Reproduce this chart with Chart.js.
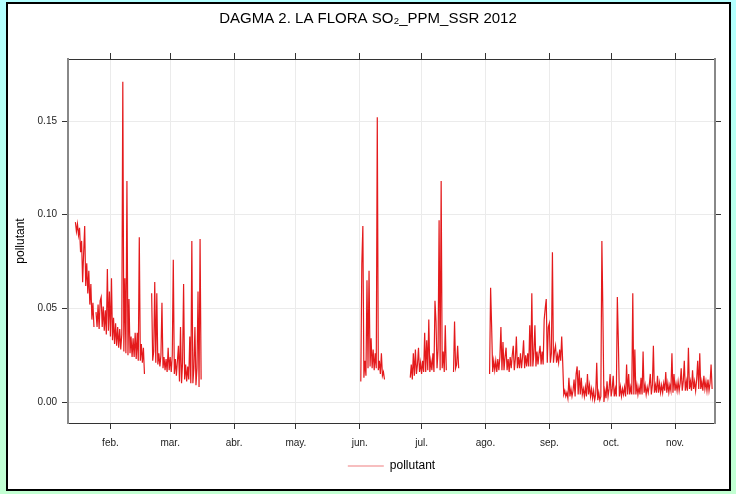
<!DOCTYPE html>
<html>
<head>
<meta charset="utf-8">
<script src="https://cdn.jsdelivr.net/npm/chart.js@4.4.4/dist/chart.umd.min.js"></script>
<style>
  html, body { margin: 0; padding: 0; }
  body {
    width: 736px; height: 494px; position: relative; overflow: hidden;
    background: linear-gradient(to bottom, #b3ffff, #c2ffd2);
  }
  .frame {
    position: absolute; left: 6px; top: 2px; width: 721px; height: 485px;
    border: 2px solid #000; background: #fff;
  }
  canvas { position: absolute; left: 0; top: 0; }
</style>
</head>
<body>
<div class="frame"></div>
<canvas id="chart" width="736" height="494"></canvas>
<script>
// SO2 readings (ppm), one value every half day, per stretch of measurements
// day numbers count from Jan 1 = 0 (2012, leap year)

const monthDays = [31, 60, 91, 121, 152, 182, 213, 244, 274, 305];
const monthLabels = ['feb.', 'mar.', 'abr.', 'may.', 'jun.', 'jul.', 'ago.', 'sep.', 'oct.', 'nov.'];
const yTicks = [0, 0.05, 0.10, 0.15];

const segStarts = [14.0, 51.0, 152.5, 176.5, 197.5, 215.0];

// jan 15 - feb 17
const seg1a = [
  0.096, 0.091, 0.095, 0.089, 0.093, 0.080, 0.086, 0.064, 0.080, 0.094,
  0.062, 0.074, 0.058, 0.070, 0.052, 0.063, 0.044, 0.053, 0.040, null,
  0.048, 0.040, 0.052, 0.039, 0.054, 0.056, 0.040, 0.051, 0.038, 0.049,
  0.036, 0.071, 0.038, 0.059, 0.035, 0.066, 0.033, 0.045, 0.031, 0.042,
  0.030, 0.040, 0.029, 0.039, 0.028, 0.036, 0.171, 0.027, 0.066, 0.026,
  0.118, 0.025, 0.055, 0.026, 0.035, 0.024, 0.034, 0.024, 0.037, 0.023,
  0.037, 0.022, 0.088, 0.022, 0.031, 0.021, 0.029, 0.015
];
// feb 20 - mar 15
const seg1b = [
  0.058, 0.022, 0.027, 0.064, 0.021, 0.058, 0.020, 0.026, 0.019, 0.025,
  0.053, 0.018, 0.024, 0.017, 0.023, 0.016, 0.029, 0.017, 0.024, 0.016,
  0.025, 0.076, 0.015, 0.023, 0.014, 0.022, 0.030, 0.011, 0.040, 0.010,
  0.021, 0.063, 0.012, 0.020, 0.011, 0.019, 0.012, 0.035, 0.010, 0.086,
  0.010, 0.018, 0.040, 0.009, 0.018, 0.059, 0.008, 0.087, 0.012
];
// jun 1 - jun 12
const seg2 = [
  0.011, 0.074, 0.094, 0.013, 0.022, 0.014, 0.065, 0.018, 0.070, 0.019,
  0.034, 0.018, 0.028, 0.017, 0.026, 0.018, 0.152, 0.017, 0.022, 0.015,
  0.026, 0.014, 0.016, 0.012
];
// jun 25 - jul 13
const seg3a = [
  0.013, 0.020, 0.012, 0.026, 0.014, 0.028, 0.015, 0.020, 0.029, 0.016,
  0.021, 0.015, 0.022, 0.016, 0.037, 0.016, 0.033, 0.017, 0.044, 0.016,
  0.022, 0.017, 0.026, 0.016, 0.054, 0.043, 0.018, 0.028, 0.097, 0.017,
  0.118, 0.018, 0.027, 0.016, 0.041, 0.017
];
// jul 16 - jul 19
const seg3b = [0.016, 0.043, 0.018, 0.020, 0.030, 0.018];
// aug 3 - nov 18
const seg4 = [
  0.015, 0.061, 0.040, 0.016, 0.022, 0.017, 0.022, 0.016, 0.023, 0.017,
  0.024, 0.040, 0.017, 0.032, 0.017, 0.024, 0.029, 0.017, 0.023, 0.016,
  0.024, 0.018, 0.025, 0.030, 0.017, 0.023, 0.035, 0.018, 0.024, 0.018,
  0.026, 0.018, 0.024, 0.033, 0.018, 0.025, 0.019, 0.026, 0.019, 0.041,
  0.019, 0.058, 0.019, 0.026, 0.041, 0.019, 0.027, 0.020, 0.026, 0.030,
  0.020, 0.027, 0.020, 0.044, 0.050, 0.055, 0.021, 0.040, 0.042, 0.021,
  0.026, 0.080, 0.021, 0.027, 0.030, 0.021, 0.025, 0.021, 0.028, 0.022,
  0.035, 0.021, 0.004, 0.006, 0.003, 0.005, 0.002, 0.013, 0.003, 0.007,
  0.003, 0.006, 0.012, 0.003, 0.015, 0.019, 0.004, 0.017, 0.004, 0.013,
  0.004, 0.007, 0.003, 0.008, 0.003, 0.015, 0.004, 0.009, 0.003, 0.007,
  0.002, 0.006, 0.001, 0.004, 0.021, 0.001, 0.005, 0.001, 0.003, 0.086,
  0.047, 0.000, 0.006, 0.002, 0.011, 0.003, 0.007, 0.015, 0.003, 0.007,
  0.014, 0.003, 0.007, 0.003, 0.056, 0.032, 0.003, 0.008, 0.003, 0.007,
  0.004, 0.008, 0.003, 0.020, 0.004, 0.015, 0.004, 0.008, 0.004, 0.058,
  0.004, 0.028, 0.004, 0.009, 0.004, 0.008, 0.004, 0.013, 0.004, 0.027,
  0.005, 0.009, 0.004, 0.008, 0.005, 0.009, 0.015, 0.004, 0.009, 0.030,
  0.005, 0.009, 0.005, 0.014, 0.005, 0.010, 0.005, 0.009, 0.005, 0.010,
  0.006, 0.016, 0.005, 0.010, 0.005, 0.009, 0.006, 0.026, 0.005, 0.015,
  0.006, 0.010, 0.006, 0.011, 0.006, 0.010, 0.018, 0.006, 0.011, 0.022,
  0.006, 0.011, 0.006, 0.029, 0.007, 0.011, 0.006, 0.017, 0.007, 0.011,
  0.006, 0.012, 0.022, 0.007, 0.026, 0.007, 0.011, 0.006, 0.014, 0.007,
  0.011, 0.006, 0.012, 0.006, 0.010, 0.020, 0.007
];

const segValues = [seg1a, seg1b, seg2, seg3a, seg3b, seg4];
const STEP = 0.5; // days between readings

const points = [];
segValues.forEach((vals, k) => {
  vals.forEach((v, i) => points.push({ x: segStarts[k] + i * STEP, y: v }));
  points.push({ x: segStarts[k] + vals.length * STEP, y: null }); // break the line
});

const FONT = '"Liberation Sans", Arial, sans-serif';
Chart.defaults.font.family = FONT;
Chart.defaults.color = '#222';

const gridColor = '#ebebeb';
const frameColor = '#333';

const setMonthTicks = s => { s.ticks = monthDays.map(v => ({ value: v })); };
const setYTicks = s => { s.ticks = yTicks.map(v => ({ value: v })); };

// legend sample is drawn a lighter red, like the original
const legendLabels = chart =>
  Chart.defaults.plugins.legend.labels.generateLabels(chart)
    .map(l => ({ ...l, strokeStyle: '#f07f80' }));

const chartEl = document.getElementById('chart');
const chart = new Chart(chartEl, {
  type: 'line',
  data: {
    datasets: [{
      label: 'pollutant',
      data: points,
      borderColor: '#e41a1c',
      borderWidth: 1.2,
      pointRadius: 0,
      pointStyle: 'line',
      tension: 0,
      spanGaps: false
    }]
  },
  options: {
    responsive: false,
    animation: false,
    layout: { padding: { bottom: 12 } },
    plugins: {
      title: {
        display: true,
        text: 'DAGMA 2. LA FLORA SO₂_PPM_SSR 2012',
        color: '#000',
        font: { size: 15, weight: 'normal' },
        padding: { top: 10, bottom: 0 }
      },
      legend: {
        position: 'bottom',
        fullSize: false,
        labels: {
          usePointStyle: true,
          pointStyleWidth: 36,
          color: '#000',
          font: { size: 12 },
          generateLabels: legendLabels
        }
      },
      tooltip: { enabled: false }
    },
    scales: {
      x: {
        type: 'linear', position: 'bottom', min: 10.4, max: 324.4,
        afterBuildTicks: setMonthTicks,
        afterFit: s => { s.height = 27; },
        ticks: {
          autoSkip: false, maxRotation: 0, padding: 8,
          font: { size: 10 },
          callback: (v, i) => monthLabels[i]
        },
        grid: { color: gridColor, tickColor: frameColor, tickLength: 6 },
        border: { color: frameColor }
      },
      x2: {
        type: 'linear', position: 'top', min: 10.4, max: 324.4,
        afterBuildTicks: setMonthTicks,
        afterFit: s => { s.height = 59 - 28; },
        ticks: { display: false },
        grid: { drawOnChartArea: false, tickColor: frameColor, tickLength: 6 },
        border: { color: frameColor }
      },
      y: {
        position: 'left', min: -0.0112, max: 0.1831,
        afterBuildTicks: setYTicks,
        afterFit: s => { s.width = 68; },
        ticks: { padding: 5, font: { size: 10 }, callback: v => v.toFixed(2) },
        title: { display: true, text: 'pollutant', color: '#000', font: { size: 12 }, padding: { top: 13, bottom: 0 } },
        grid: { color: gridColor, tickColor: frameColor, tickLength: 6 },
        border: { color: '#888', width: 2 }
      },
      y2: {
        position: 'right', min: -0.0112, max: 0.1831,
        afterBuildTicks: setYTicks,
        afterFit: s => { s.width = 21; },
        ticks: { display: false },
        grid: { drawOnChartArea: false, tickColor: frameColor, tickLength: 6 },
        border: { color: '#888', width: 2 }
      }
    }
  }
});
</script>
</body>
</html>
